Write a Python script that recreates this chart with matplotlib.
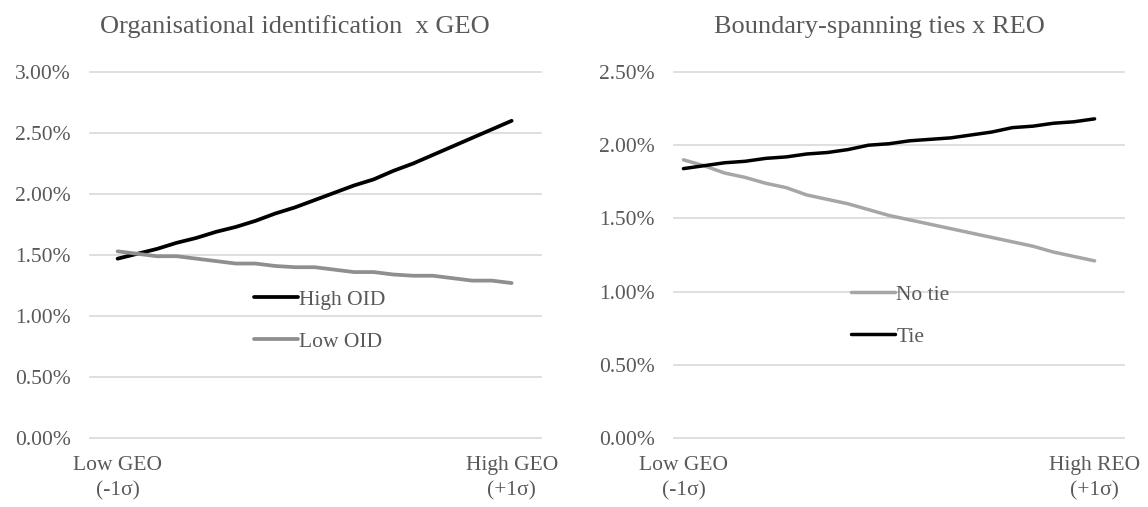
import matplotlib
matplotlib.use("Agg")
import matplotlib.pyplot as plt
from matplotlib.ticker import FuncFormatter

plt.rcParams['font.family'] = ['Liberation Serif', 'DejaVu Serif']

# ---- data (percent) ----
steps = list(range(21))
high_oid = [1.47, 1.51, 1.55, 1.60, 1.64, 1.69, 1.73, 1.78, 1.84, 1.89, 1.95,
            2.01, 2.07, 2.12, 2.19, 2.25, 2.32, 2.39, 2.46, 2.53, 2.60]
low_oid = [1.53, 1.51, 1.49, 1.49, 1.47, 1.45, 1.43, 1.43, 1.41, 1.40, 1.40,
           1.38, 1.36, 1.36, 1.34, 1.33, 1.33, 1.31, 1.29, 1.29, 1.27]
no_tie = [1.90, 1.86, 1.81, 1.78, 1.74, 1.71, 1.66, 1.63, 1.60, 1.56, 1.52,
          1.49, 1.46, 1.43, 1.40, 1.37, 1.34, 1.31, 1.27, 1.24, 1.21]
tie = [1.84, 1.86, 1.88, 1.89, 1.91, 1.92, 1.94, 1.95, 1.97, 2.00, 2.01,
       2.03, 2.04, 2.05, 2.07, 2.09, 2.12, 2.13, 2.15, 2.16, 2.18]

left_title = "Organisational identification  x GEO"
right_title = "Boundary-spanning ties x REO"
left_xlabels = ["Low GEO\n(-1σ)", "High GEO\n(+1σ)"]
right_xlabels = ["Low GEO\n(-1σ)", "High REO\n(+1σ)"]
left_yticks = [0, 0.5, 1.0, 1.5, 2.0, 2.5, 3.0]
right_yticks = [0, 0.5, 1.0, 1.5, 2.0, 2.5]

TXT = "#595959"
GRID = "#d9d9d9"
FS = 15.5

W, H = 1148, 507
fig = plt.figure(figsize=(W / 100, H / 100), dpi=100)

def px_axes(x0, x1, y0, y1):
    return fig.add_axes([x0 / W, 1 - y1 / H, (x1 - x0) / W, (y1 - y0) / H])

def style(ax, yticks, xlim, xlabels):
    ax.set_ylim(0, yticks[-1])
    ax.set_xlim(*xlim)
    ax.set_yticks(yticks)
    ax.yaxis.set_major_formatter(FuncFormatter(lambda v, p: f"{v:.2f}%"))
    ax.set_xticks([steps[0], steps[-1]])
    ax.set_xticklabels(xlabels)
    for t in ax.get_xticklabels():
        t.set_linespacing(1.4)
    for s in ax.spines.values():
        s.set_visible(False)
    ax.tick_params(axis='both', length=0, labelsize=FS, colors=TXT)
    ax.tick_params(axis='y', pad=14)
    ax.tick_params(axis='x', pad=13)
    ax.grid(axis='y', color=GRID, linewidth=1.2)
    ax.set_axisbelow(True)
    for gl in ax.get_ygridlines():
        gl.set_clip_on(False)

LEG = dict(frameon=False, fontsize=FS, handlelength=2.05, handletextpad=0.05,
           borderpad=0, borderaxespad=0, labelspacing=1.02, labelcolor=TXT)

# left panel
ax1 = px_axes(90, 541, 72, 438)
ax1.plot(steps, high_oid, color="black", lw=2.7, label="High OID", solid_capstyle='round')
ax1.plot(steps, low_oid, color="#8f8f8f", lw=2.7, label="Low OID", solid_capstyle='round')
style(ax1, left_yticks, (-1.40, 21.49), left_xlabels)
ax1.legend(loc='upper left', bbox_to_anchor=(253.8 / W, 1 - 289.5 / H),
           bbox_transform=fig.transFigure, **LEG)

# right panel
ax2 = px_axes(674, 1124, 72, 438)
ax2.plot(steps, no_tie, color="#a6a6a6", lw=2.5, label="No tie", solid_capstyle='round')
ax2.plot(steps, tie, color="black", lw=2.5, label="Tie", solid_capstyle='round')
style(ax2, right_yticks, (-0.46, 21.43), right_xlabels)
ax2.legend(loc='upper left', bbox_to_anchor=(851 / W, 1 - 284.5 / H),
           bbox_transform=fig.transFigure, **LEG)

fig.text(295 / W, 1 - 27 / H, left_title, ha='center', va='center', fontsize=19, color=TXT)
fig.text(879 / W, 1 - 27 / H, right_title, ha='center', va='center', fontsize=19, color=TXT)

fig.savefig("out.png", dpi=100, facecolor="white")
